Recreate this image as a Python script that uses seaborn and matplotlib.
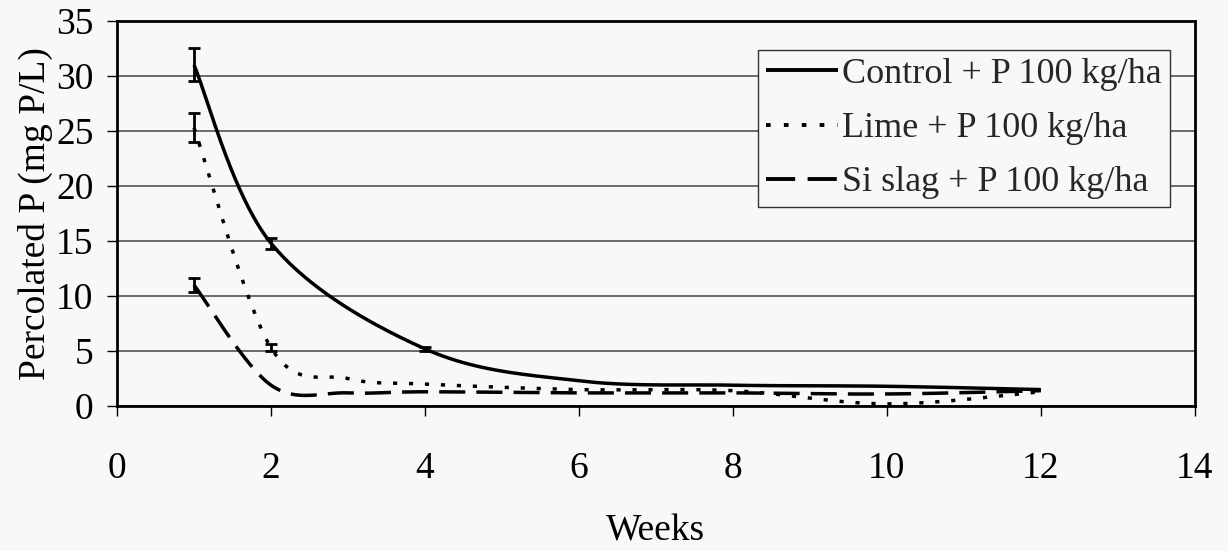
import numpy as np
import pandas as pd
import matplotlib
matplotlib.use("Agg")
import matplotlib.pyplot as plt
import seaborn as sns

# ---- data ----
control_weeks = [1, 2, 4, 6, 8, 10, 12]
control = [31.0, 14.8, 5.2, 2.3, 1.9, 1.8, 1.5]
control_err = [1.5, 0.5, 0.2, 0.0, 0.0, 0.0, 0.0]

lime_weeks = [1, 2, 3, 4, 6, 8, 10, 12]
lime = [25.3, 5.3, 2.5, 2.0, 1.5, 1.4, 0.2, 1.3]
lime_err = [1.3, 0.3, 0.0, 0.0, 0.0, 0.0, 0.0, 0.0]

slag_weeks = [1, 2, 3, 4, 6, 8, 10, 12]
slag = [11.0, 1.9, 1.2, 1.3, 1.2, 1.2, 1.1, 1.4]
slag_err = [0.6, 0.0, 0.0, 0.0, 0.0, 0.0, 0.0, 0.0]

labels = ["Control + P 100 kg/ha", "Lime + P 100 kg/ha", "Si slag + P 100 kg/ha"]
x_ticks = [0, 2, 4, 6, 8, 10, 12, 14]
y_ticks = [0, 5, 10, 15, 20, 25, 30, 35]


def smooth_path(xs, ys, n=40):
    """Excel-style smoothed line (Bezier through the points)."""
    P = np.column_stack([xs, ys]).astype(float)
    Pe = np.vstack([P[0], P, P[-1]])
    out = []
    for i in range(len(P) - 1):
        p0, p1, p2, p3 = Pe[i], Pe[i + 1], Pe[i + 2], Pe[i + 3]
        c1 = p1 + (p2 - p0) / 6.0
        c2 = p2 - (p3 - p1) / 6.0
        t = np.linspace(0, 1, n, endpoint=(i == len(P) - 2))[:, None]
        seg = ((1 - t) ** 3) * p1 + 3 * ((1 - t) ** 2) * t * c1 + 3 * (1 - t) * t ** 2 * c2 + t ** 3 * p2
        out.append(seg)
    out = np.vstack(out)
    return out[:, 0], out[:, 1]


sns.set_theme(style="white")
plt.rcParams["font.family"] = ["Liberation Serif", "DejaVu Serif"]

bg = "#f8f8f6"
fig = plt.figure(figsize=(12.28, 5.51), dpi=100, facecolor=bg)
ax = fig.add_axes([0.0953, 0.263, 0.8777, 0.699])
ax.set_facecolor(bg)

series = [
    (control_weeks, control, control_err, labels[0], (0, ())),
    (lime_weeks, lime, lime_err, labels[1], (0, (1.2, 3.4))),
    (slag_weeks, slag, slag_err, labels[2], (0, (7.5, 3.2))),
]

lw = 2.5
for wk, vals, errs, lab, ls in series:
    sx, sy = smooth_path(wk, vals)
    df = pd.DataFrame({"Weeks": sx, "P": sy})
    sns.lineplot(data=df, x="Weeks", y="P", sort=False, estimator=None, ax=ax,
                 color="black", linewidth=lw, linestyle=ls, label=lab)
    ew = [w for w, e in zip(wk, errs) if e > 0]
    ev = [v for v, e in zip(vals, errs) if e > 0]
    ee = [e for e in errs if e > 0]
    ax.errorbar(ew, ev, yerr=ee, fmt="none", ecolor="black", elinewidth=2.0,
                capsize=4.5, capthick=2.0, zorder=3)

ax.set_xlim(0, 14)
ax.set_ylim(0, 35)
ax.set_xticks(x_ticks)
ax.set_yticks(y_ticks)
ax.yaxis.grid(True, color="#444444", linewidth=1.1)
ax.xaxis.grid(False)
ax.set_axisbelow(True)
for s in ax.spines.values():
    s.set_visible(True)
    s.set_color("black")
    s.set_linewidth(2.0)
ax.tick_params(axis="both", which="major", direction="out", length=7, width=1.0,
               color="black", labelsize=27, labelcolor="black", pad=10, left=True, bottom=True)
ax.tick_params(axis="x", pad=26)
ax.set_xlabel("Weeks", fontsize=27, color="black", labelpad=20)
ax.set_ylabel("Percolated P (mg P/L)", fontsize=27, color="black", labelpad=2)

leg = ax.legend(loc="upper right", bbox_to_anchor=(0.977, 0.925), fontsize=26,
                frameon=True, fancybox=False, framealpha=1, edgecolor="#333333",
                facecolor=bg, handlelength=2.0, handletextpad=0.12, borderpad=0.22,
                labelspacing=0.58, borderaxespad=0)
leg.get_frame().set_linewidth(1.0)
for h in leg.get_lines():
    h.set_linewidth(2.8)

fig.savefig("out.png", dpi=100, facecolor=bg)
